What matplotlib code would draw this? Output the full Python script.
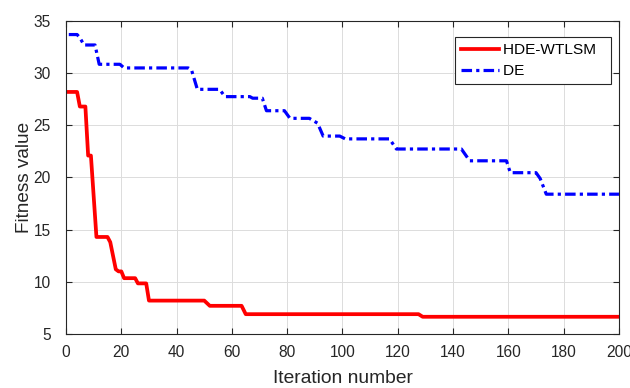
import matplotlib
matplotlib.use("Agg")
import matplotlib.pyplot as plt

# Convergence curves: breakpoints (iteration, best fitness) of each run
hde_iter = [1, 4, 5, 7, 8, 9, 11, 15, 16, 18, 19, 20, 21, 25, 26, 29, 30,
            50, 52, 63.5, 65, 127.5, 129, 200]
hde_fit = [28.2, 28.2, 26.8, 26.8, 22.1, 22.1, 14.3, 14.3, 13.8, 11.2, 11.0,
           11.0, 10.35, 10.35, 9.85, 9.85, 8.2, 8.2, 7.7, 7.7, 6.9, 6.9,
           6.65, 6.65]

de_iter = [1, 4, 5, 6.5, 10.5, 12, 19.5, 21, 44.2, 45.4, 47.5, 55.5, 57.5,
           66.5, 67.5, 71, 72.5, 79, 81, 88, 91, 93, 99, 101, 117, 119.5,
           143, 146, 159.3, 160.7, 170, 171.5, 173.7, 200]
de_fit = [33.7, 33.7, 33.4, 32.7, 32.7, 30.85, 30.85, 30.5, 30.5, 30.3,
          28.45, 28.45, 27.75, 27.75, 27.6, 27.6, 26.4, 26.4, 25.67, 25.67,
          25.2, 23.97, 23.97, 23.7, 23.7, 22.73, 22.73, 21.6, 21.6, 20.46,
          20.46, 19.9, 18.4, 18.4]

series_labels = ["HDE-WTLSM", "DE"]
x_ticks = list(range(0, 201, 20))
y_ticks = list(range(5, 36, 5))

plt.rcParams["font.family"] = ["Liberation Sans", "DejaVu Sans"]

fig = plt.figure(figsize=(6.3, 3.88), dpi=100)
ax = fig.add_axes([0.1048, 0.1392, 0.8777, 0.8067])

# trailing spaces widen the legend box on the right, MATLAB style
ax.plot(hde_iter, hde_fit, color="#ff0000", lw=2.7,
        label=series_labels[0] + "  ", solid_joinstyle="round")
ax.plot(de_iter, de_fit, color="#0000ff", lw=2.3,
        label=series_labels[1] + "  ", dashes=(3.3, 1.3, 1.0, 1.3))

ax.set_xlim(0, 200)
ax.set_ylim(5, 35)
ax.set_xticks(x_ticks)
ax.set_yticks(y_ticks)
ax.tick_params(direction="in", length=4, width=0.8, colors="#262626",
               labelsize=11.2, top=True, right=True)
ax.tick_params(axis="x", pad=8)
ax.tick_params(axis="y", pad=11)
for sp in ax.spines.values():
    sp.set_color("#262626")
    sp.set_linewidth(0.8)
ax.grid(True, color="#dcdcdc", lw=0.7)
ax.set_axisbelow(True)

ax.set_xlabel("Iteration number", fontsize=13.9, color="#262626", labelpad=7)
ax.set_ylabel("Fitness value", fontsize=13.7, color="#262626", labelpad=0)

leg = ax.legend(loc="upper right", bbox_to_anchor=(0.9855, 0.949),
                borderaxespad=0, fontsize=11.1, handlelength=2.45,
                handletextpad=0.3, borderpad=0.4, labelspacing=0.45,
                fancybox=False, framealpha=1, edgecolor="#262626")
leg.get_frame().set_linewidth(0.8)

fig.savefig("out.png", dpi=100)
